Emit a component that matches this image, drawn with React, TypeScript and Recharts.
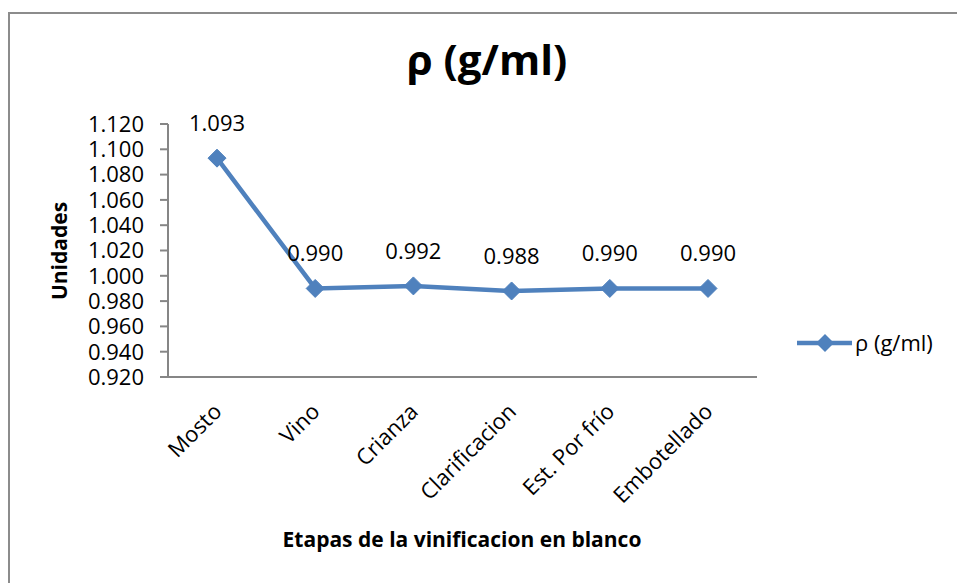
import React from 'react';
import { LineChart, Line, XAxis, YAxis, Legend, LabelList } from 'recharts';

const categories = ['Mosto', 'Vino', 'Crianza', 'Clarificacion', 'Est. Por frío', 'Embotellado'];
const densityValues = [1.093, 0.99, 0.992, 0.988, 0.99, 0.99];
const yTicks = [0.92, 0.94, 0.96, 0.98, 1.0, 1.02, 1.04, 1.06, 1.08, 1.1, 1.12];
const seriesName = 'ρ (g/ml)';
const chartTitle = 'ρ (g/ml)';
const xTitle = 'Etapas de la vinificacion en blanco';
const yTitle = 'Unidades';

const data = categories.map((c, i) => ({ name: c, rho: densityValues[i] }));

const FONT = "'Open Sans', sans-serif";
const BLUE = '#4F81BD';
const AXIS = '#868686';

const diamond = (cx: number, cy: number, r: number) =>
  `M${cx},${cy - r}L${cx + r},${cy}L${cx},${cy + r}L${cx - r},${cy}Z`;

const Dot = (props: any) => {
  const { cx, cy, index } = props;
  if (cx == null || cy == null) return <g key={`d${index}`} />;
  return <path key={`d${index}`} d={diamond(cx, cy, 9)} fill={BLUE} stroke={BLUE} strokeWidth={1} />;
};

const XTick = (props: any) => {
  const { x, y, payload } = props;
  return (
    <g transform={`translate(${x + 6},${y + 36}) rotate(-45)`}>
      <text x={0} y={0} textAnchor="end" fontFamily={FONT} fontSize={22} fill="#000">
        {payload.value}
      </text>
    </g>
  );
};

const DataLabel = (props: any) => {
  const vb = props.viewBox || {};
  const x = props.x ?? vb.x;
  const y = props.y ?? vb.y;
  const v = Number(props.value);
  if (x == null || y == null) return null;
  return (
    <text x={x} y={y - 27} textAnchor="middle" fontFamily={FONT} fontSize={22} fill="#000">
      {v.toFixed(3)}
    </text>
  );
};

const LegendContent = () => (
  <svg width={160} height={30} style={{ overflow: 'visible' }}>
    <line x1={2} y1={13} x2={57} y2={13} stroke={BLUE} strokeWidth={4.5} />
    <path d={diamond(30, 13, 9)} fill={BLUE} />
    <text x={60} y={21} fontFamily={FONT} fontSize={22} fill="#000">
      {seriesName}
    </text>
  </svg>
);

export default function App() {
  return (
    <div style={{ position: 'relative', width: 957, height: 583, overflow: 'hidden', background: '#fff' }}>
      <style>{`html,body{margin:0;padding:0;overflow:hidden;}`}</style>
      <div
        style={{
          position: 'absolute',
          left: 8,
          top: 12,
          width: 1000,
          height: 700,
          borderLeft: '2px solid #8c8c8c',
          borderTop: '2px solid #8c8c8c',
          boxSizing: 'border-box',
        }}
      />
      <div style={{ position: 'absolute', left: 0, top: 0 }}>
        <LineChart
          width={957}
          height={583}
          data={data}
          margin={{ top: 124, right: 200, bottom: 176, left: 108 }}
        >
          <XAxis
            dataKey="name"
            height={30}
            padding={{ left: 49, right: 49 }}
            axisLine={{ stroke: AXIS, strokeWidth: 2 }}
            tickLine={false}
            tickSize={0}
            tickMargin={0}
            interval={0}
            tick={<XTick />}
          />
          <YAxis
            width={60}
            domain={[0.92, 1.12]}
            ticks={yTicks}
            interval={0}
            allowDataOverflow
            axisLine={{ stroke: AXIS, strokeWidth: 2 }}
            tickLine={{ stroke: AXIS, strokeWidth: 2 }}
            tickSize={8}
            tickMargin={16}
            tickFormatter={(v: number) => v.toFixed(3)}
            tick={{ fontFamily: FONT, fontSize: 22, fill: '#000' }}
          />
          <Legend
            layout="vertical"
            align="center"
            verticalAlign="middle"
            content={<LegendContent />}
            wrapperStyle={{ position: 'absolute', left: 795, top: 330, width: 160, height: 30 }}
          />
          <Line
            type="linear"
            dataKey="rho"
            name={seriesName}
            stroke={BLUE}
            strokeWidth={4.5}
            dot={<Dot />}
            activeDot={false}
            isAnimationActive={false}
          >
            <LabelList dataKey="rho" content={<DataLabel />} />
          </Line>
        </LineChart>
      </div>
      <svg
        width={957}
        height={583}
        style={{ position: 'absolute', left: 0, top: 0, pointerEvents: 'none' }}
      >
        <text x={487} y={75} textAnchor="middle" fontFamily={FONT} fontWeight="bold" fontSize={42} fill="#000">
          {chartTitle}
        </text>
        <text x={462} y={547} textAnchor="middle" fontFamily={FONT} fontWeight="bold" fontSize={21} fill="#000">
          {xTitle}
        </text>
        <text
          transform="translate(67,251) rotate(-90)"
          textAnchor="middle"
          fontFamily={FONT}
          fontWeight="bold"
          fontSize={21}
          fill="#000"
        >
          {yTitle}
        </text>
      </svg>
    </div>
  );
}
